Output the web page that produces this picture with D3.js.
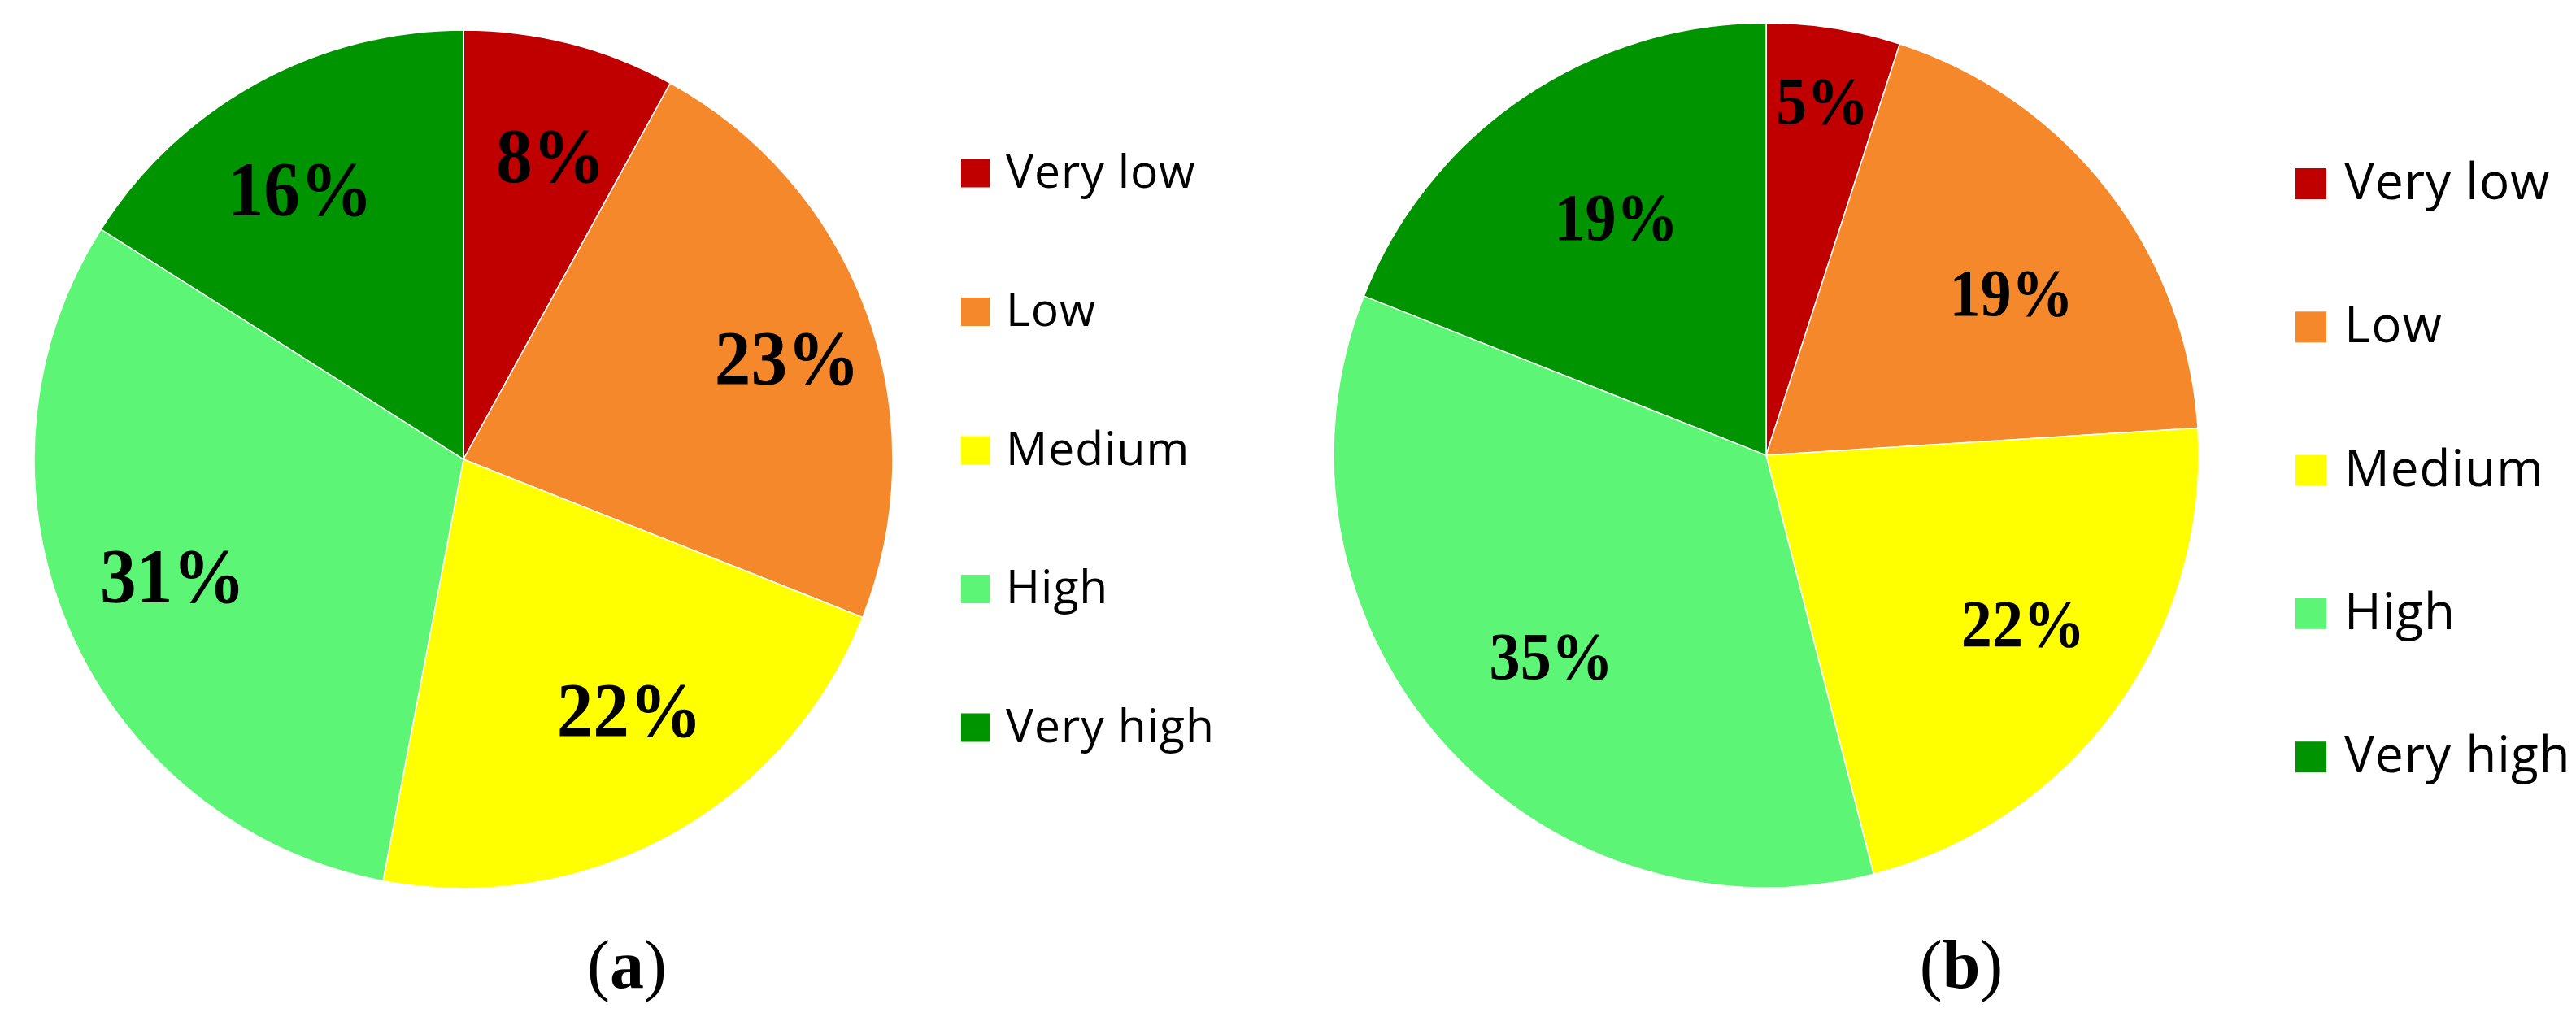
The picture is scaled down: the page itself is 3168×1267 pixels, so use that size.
<!DOCTYPE html>
<html>
<head>
<meta charset="utf-8">
<script src="https://cdn.jsdelivr.net/npm/d3@7"></script>
<style>
  html, body { margin: 0; padding: 0; background: #ffffff; }
  svg { display: block; }
</style>
</head>
<body>
<svg id="chart" width="3168" height="1267"></svg>
<script>
// ---- data ----
const categories = ["Very low", "Low", "Medium", "High", "Very high"];
const valuesA = [8, 23, 22, 31, 16];
const valuesB = [5, 19, 22, 35, 19];
const panelTitles = ["a", "b"];
const colors = ["#C00000", "#F5882B", "#FFFF00", "#5CF575", "#009400"];

// ---- layout (label radius as fraction of R, angular nudge in degrees) ----
const panels = [
  { values: valuesA, title: panelTitles[0], cx: 570, cy: 565, r: 528,
    labelK: [0.735, 0.79, 0.70, 0.73, 0.735], labelShift: [1.6, 2.4, -4.7, 1.5, -2.4],
    labelSize: 95, labelScaleX: 0.94,
    legX: 1182, legY: 213, legStep: 170.5, sq: 35, legFont: 57, legGap: 20,
    capX: 771, capY: 1215 },
  { values: valuesB, title: panelTitles[1], cx: 2172, cy: 560, r: 532,
    labelK: [0.83, 0.68, 0.71, 0.68, 0.65], labelShift: [0, 4.3, -2.8, -1.7, 2.0],
    labelSize: 82, labelScaleX: 0.93,
    legX: 2823, legY: 226, legStep: 176.3, sq: 38, legFont: 62, legGap: 22,
    capX: 2412, capY: 1215 }
];

const svg = d3.select("#chart");
const color = d3.scaleOrdinal().domain(categories).range(colors);
const pie = d3.pie().sort(null).value(d => d.v).startAngle(0).endAngle(2 * Math.PI);
const rad = deg => deg * Math.PI / 180;

panels.forEach(p => {
  const data = categories.map((c, i) => ({ c, v: p.values[i], i }));
  const arcs = pie(data);
  const g = svg.append("g").attr("transform", `translate(${p.cx},${p.cy})`);
  const arc = d3.arc().innerRadius(0).outerRadius(p.r);

  g.selectAll("path.slice").data(arcs).enter().append("path")
    .attr("class", "slice")
    .attr("d", arc)
    .attr("fill", d => color(d.data.c))
    .attr("stroke", "#ffffff")
    .attr("stroke-width", 1.5);

  g.selectAll("text.pct").data(arcs).enter().append("text")
    .attr("class", "pct")
    .attr("transform", d => {
      const k = p.labelK[d.data.i] * p.r;
      const s = rad(p.labelShift[d.data.i]);
      const la = d3.arc().innerRadius(k).outerRadius(k);
      const [x, y] = la.centroid({ startAngle: d.startAngle + s, endAngle: d.endAngle + s });
      return `translate(${x},${y}) scale(${p.labelScaleX},1)`;
    })
    .attr("text-anchor", "middle")
    .attr("dy", "0.34em")
    .attr("font-family", "'Liberation Serif', 'Times New Roman', serif")
    .attr("font-weight", "bold")
    .attr("font-size", p.labelSize)
    .attr("fill", "#000")
    .text(d => d.data.v + "%");

  // legend
  const leg = svg.append("g");
  const items = leg.selectAll("g.item").data(categories).enter().append("g")
    .attr("class", "item")
    .attr("transform", (d, i) => `translate(${p.legX},${p.legY + i * p.legStep})`);
  items.append("rect")
    .attr("x", 0).attr("y", -p.sq / 2)
    .attr("width", p.sq).attr("height", p.sq)
    .attr("fill", d => color(d));
  items.append("text")
    .attr("x", p.sq + p.legGap)
    .attr("y", p.sq / 2)
    .attr("font-family", "'Open Sans', 'Noto Sans', sans-serif")
    .attr("font-size", p.legFont)
    .attr("letter-spacing", 1)
    .attr("fill", "#000")
    .text(d => d);

  // caption
  const cap = svg.append("text")
    .attr("x", p.capX).attr("y", p.capY)
    .attr("text-anchor", "middle")
    .attr("font-family", "'Liberation Serif', 'Times New Roman', serif")
    .attr("font-size", 84)
    .attr("fill", "#000");
  cap.append("tspan").text("(");
  cap.append("tspan").attr("font-weight", "bold").text(p.title);
  cap.append("tspan").text(")");
});
</script>
</body>
</html>
